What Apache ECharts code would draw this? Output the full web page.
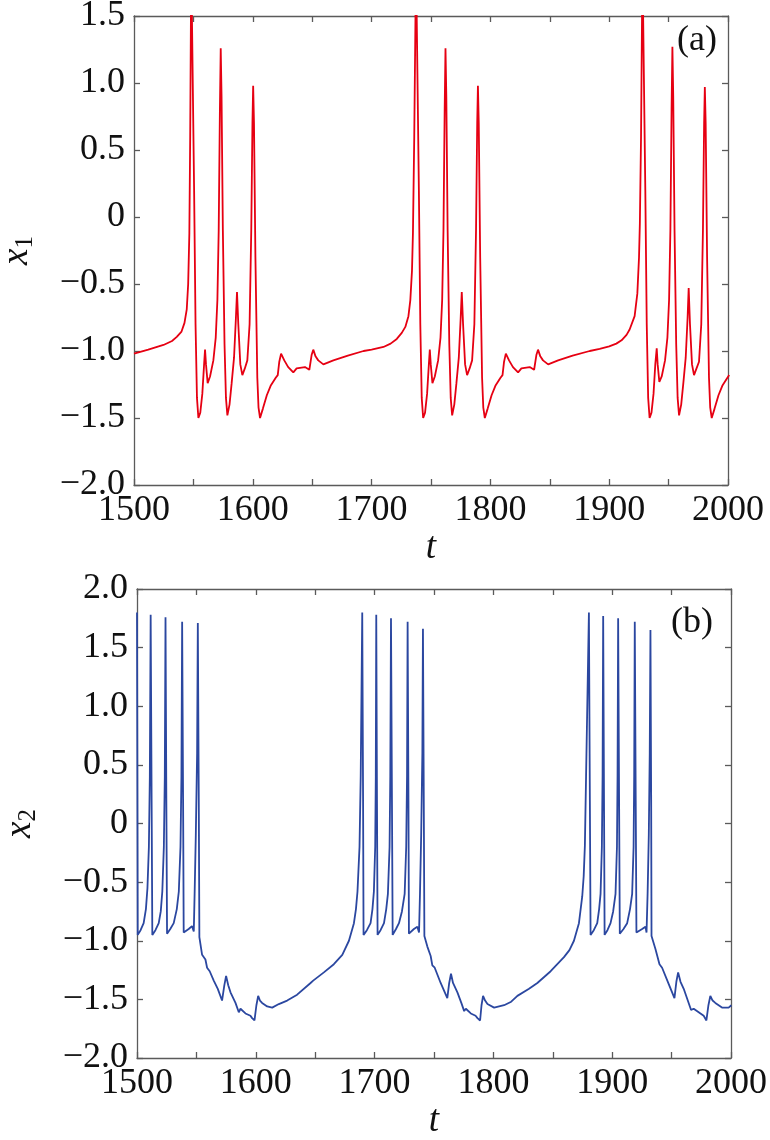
<!DOCTYPE html>
<html><head><meta charset="utf-8">
<script src="https://cdn.jsdelivr.net/npm/echarts@6/dist/echarts.min.js"></script>
<style>html,body{margin:0;padding:0;background:#fff}#c{width:770px;height:1140px}</style>
</head><body><div id="c"></div>
<script>
// x-axis ticks (t)
var tTicks = [1500, 1600, 1700, 1800, 1900, 2000];
var yTicksA = [-2.0, -1.5, -1.0, -0.5, 0, 0.5, 1.0, 1.5];
var yTicksB = [-2.0, -1.5, -1.0, -0.5, 0, 0.5, 1.0, 1.5, 2.0];

// panel (a): x1(t)
var x1Data = [
[1500,-1.02],[1512,-0.99],[1524.8,-0.955],[1532,-0.925],[1536,-0.895],[1540,-0.855],[1542.5,-0.79],[1544.4,-0.69],[1545.6,-0.5],[1546.6,-0.12],[1547.3,0.6],[1548.2,1.9],[1549.4,1.9],[1550.6,0.2],[1551.8,-0.8],[1553,-1.35],[1554.2,-1.5],[1555.8,-1.46],[1557.5,-1.32],[1559,-1.1],[1559.8,-0.99],[1560.6,-1.1],[1562,-1.24],[1564,-1.19],[1566.8,-1.07],[1568.8,-0.9],[1570.2,-0.62],[1571.3,-0.1],[1572.3,0.8],[1573,1.26],[1573.7,0.9],[1574.8,-0.1],[1576.2,-0.95],[1577.4,-1.35],[1578.6,-1.48],[1580.4,-1.4],[1582.2,-1.24],[1584.2,-1.05],[1585.8,-0.75],[1586.7,-0.56],[1587.8,-0.8],[1589.5,-1.1],[1591.2,-1.18],[1593.3,-1.13],[1595.4,-1.07],[1597.3,-0.8],[1598.7,-0.1],[1599.7,0.7],[1600.3,0.98],[1601,0.7],[1602.2,-0.3],[1603.8,-1.2],[1604.8,-1.42],[1606.1,-1.5],[1608.5,-1.43],[1611.8,-1.33],[1615,-1.26],[1619.3,-1.2],[1621,-1.18],[1622.3,-1.08],[1623.8,-1.02],[1626.5,-1.07],[1629.8,-1.12],[1634.1,-1.16],[1636.9,-1.13],[1643.9,-1.12],[1647.6,-1.14],[1649.5,-1.03],[1650.9,-0.99],[1652.8,-1.04],[1655.1,-1.07],[1659.4,-1.1],[1667.8,-1.07],[1680,-1.035],[1693.2,-1.0],[1700,-0.99],[1710,-0.97],[1716,-0.945],[1721.2,-0.91],[1725.4,-0.865],[1728.4,-0.82],[1731,-0.74],[1732.6,-0.62],[1734,-0.4],[1734.8,-0.12],[1735.9,0.6],
[1737.4,1.9],[1738.6,1.9],[1739.8,0.2],[1741,-0.8],[1742.2,-1.35],[1743.4,-1.5],[1745,-1.46],[1746.7,-1.32],[1748.2,-1.1],[1749,-0.99],[1749.8,-1.1],[1751.2,-1.24],[1753.2,-1.19],[1756,-1.07],[1758,-0.9],[1759.4,-0.62],[1760.5,-0.1],[1761.5,0.8],[1762.2,1.26],[1762.9,0.9],[1764,-0.1],[1765.4,-0.95],[1766.6,-1.35],[1767.8,-1.48],[1769.6,-1.4],[1771.4,-1.24],[1773.4,-1.05],[1775,-0.75],[1775.9,-0.56],[1777,-0.8],[1778.7,-1.1],[1780.4,-1.18],[1782.5,-1.13],[1784.6,-1.07],[1786.5,-0.8],[1787.9,-0.1],[1788.9,0.7],[1789.5,0.98],[1790.2,0.7],[1791.4,-0.3],[1793,-1.2],[1794,-1.42],[1795.3,-1.5],[1797.7,-1.43],[1801,-1.33],[1804.2,-1.26],[1808.5,-1.2],[1810.2,-1.18],[1811.5,-1.08],[1813,-1.02],[1815.7,-1.07],[1819,-1.12],[1823.3,-1.16],[1826.1,-1.13],[1833.1,-1.12],[1836.8,-1.14],[1838.7,-1.03],[1840.1,-0.99],[1842,-1.04],[1844.3,-1.07],[1848.6,-1.1],[1857,-1.07],[1869.2,-1.035],[1883.6,-1.0],[1892,-0.985],[1900,-0.965],[1906,-0.945],[1910.4,-0.92],[1914.6,-0.88],[1917.2,-0.84],[1921.4,-0.74],[1923.7,-0.57],[1925.1,-0.3],[1925.8,-0.05],[1926.8,0.6],
[1928,1.9],[1929.2,1.9],[1930.4,0.2],[1931.6,-0.8],[1932.8,-1.35],[1934,-1.5],[1935.6,-1.46],[1937.3,-1.32],[1938.8,-1.1],[1940,-0.98],[1940.8,-1.1],[1942.2,-1.23],[1944.2,-1.19],[1947,-1.07],[1949,-0.9],[1950.4,-0.62],[1951.5,-0.1],[1952.5,0.8],[1953.2,1.27],[1953.9,0.9],[1955,-0.1],[1956.4,-0.95],[1957.6,-1.35],[1958.8,-1.48],[1960.6,-1.4],[1962.4,-1.24],[1964.4,-1.05],[1966,-0.75],[1966.9,-0.53],[1968,-0.8],[1969.7,-1.1],[1971.4,-1.18],[1973.5,-1.13],[1975.6,-1.08],[1977.5,-0.8],[1978.9,-0.1],[1979.9,0.7],[1980.5,0.97],[1981.2,0.7],[1982.4,-0.3],[1984,-1.2],[1985,-1.42],[1986.3,-1.5],[1988.7,-1.43],[1992,-1.33],[1995.2,-1.26],[1999.5,-1.2],[2001,-1.18]
];

// panel (b): x2(t)
var x2Data = [
[1500,1.80],[1500.6,-0.95],[1503,-0.91],[1505.6,-0.85],[1507.5,-0.73],[1508.8,-0.55],[1510,-0.2],[1510.8,0.4],[1511.5,1.78],[1512.3,0.2],[1512.9,-0.95],[1515.5,-0.91],[1518.3,-0.85],[1520,-0.75],[1521.3,-0.58],[1522.6,-0.2],[1523.4,0.4],[1524,1.76],[1524.7,0.2],[1525.3,-0.94],[1528,-0.9],[1530.9,-0.85],[1533.5,-0.73],[1535.2,-0.58],[1536.6,-0.2],[1537.4,0.4],[1538,1.72],[1538.8,0.2],[1539.3,-0.93],[1543.5,-0.9],[1546.3,-0.875],[1547.8,-0.92],[1548.5,-0.6],[1549.5,-0.1],[1550.6,0.6],[1551.2,1.71],[1552,0.2],[1552.5,-0.97],[1554.8,-1.12],[1557.6,-1.16],[1559,-1.23],[1561.2,-1.26],[1564.6,-1.34],[1568,-1.41],[1571.6,-1.51],[1573.5,-1.38],[1575,-1.30],[1576.8,-1.38],[1578.7,-1.44],[1582.9,-1.53],[1585.7,-1.61],[1587.1,-1.58],[1591.3,-1.62],[1595.5,-1.64],[1596.9,-1.66],[1598.9,-1.68],[1600.5,-1.55],[1602,-1.47],[1603.5,-1.51],[1605.3,-1.53],[1609.6,-1.56],[1613.8,-1.57],[1619.4,-1.54],[1626.4,-1.51],[1634.8,-1.46],[1646.1,-1.36],[1648.3,-1.34],[1657.3,-1.27],[1665.7,-1.2],[1672.8,-1.12],[1678.4,-1.0],[1682.6,-0.85],[1684.3,-0.73],[1685.6,-0.58],[1687.3,-0.2],[1688.3,0.4],
[1689.6,1.80],[1690.3,0.2],[1690.7,-0.95],[1693.5,-0.91],[1696.6,-0.85],[1698.2,-0.73],[1699.4,-0.58],[1700.5,-0.2],[1701,0.4],[1701.4,1.78],[1702,0.2],[1702.5,-0.95],[1705,-0.91],[1707.9,-0.85],[1709.8,-0.73],[1711.2,-0.6],[1712.6,-0.2],[1713.2,0.4],[1713.8,1.75],[1714.6,0.2],[1715.2,-0.95],[1718,-0.9],[1720.5,-0.85],[1723,-0.75],[1725.3,-0.6],[1726.6,-0.2],[1727.3,0.4],[1727.8,1.72],[1728.5,0.2],[1728.9,-0.94],[1733.1,-0.9],[1736,-0.88],[1737.4,-0.93],[1738.2,-0.6],[1739.2,-0.1],[1740.2,0.6],[1740.7,1.66],[1741.4,0.2],[1741.9,-0.96],[1744.4,-1.05],[1747.2,-1.13],[1748.6,-1.21],[1750.6,-1.23],[1755.6,-1.36],[1761.2,-1.49],[1762.8,-1.36],[1764.3,-1.28],[1766,-1.36],[1769.7,-1.44],[1773,-1.53],[1775.4,-1.6],[1776.8,-1.58],[1781,-1.62],[1785,-1.64],[1786.6,-1.66],[1788.8,-1.68],[1790,-1.55],[1791.3,-1.47],[1793,-1.51],[1795,-1.54],[1800.6,-1.57],[1809,-1.55],[1815,-1.52],[1820.2,-1.47],[1830,-1.41],[1837,-1.36],[1848.2,-1.26],[1859.4,-1.14],[1864,-1.08],[1867.8,-1.0],[1872,-0.85],[1874.8,-0.62],[1876,-0.45],[1877,-0.19],[1878,0.4],
[1880.4,1.80],[1881.2,0.2],[1881.8,-0.95],[1884.5,-0.91],[1887.4,-0.85],[1889,-0.73],[1890.2,-0.6],[1891.3,-0.2],[1891.9,0.4],[1892.4,1.77],[1893.1,0.2],[1893.6,-0.95],[1896,-0.91],[1898.6,-0.85],[1900.8,-0.75],[1902.8,-0.6],[1904,-0.2],[1904.5,0.4],[1905,1.75],[1905.8,0.2],[1906.4,-0.94],[1909.5,-0.9],[1912.6,-0.85],[1915,-0.73],[1916.8,-0.6],[1918,-0.2],[1918.5,0.4],[1919,1.72],[1919.8,0.2],[1920.4,-0.93],[1925.2,-0.9],[1928,-0.88],[1928.9,-0.93],[1929.8,-0.6],[1930.8,-0.1],[1931.6,0.6],[1932.2,1.65],[1932.8,0.2],[1933.1,-0.96],[1936.4,-1.07],[1939.8,-1.2],[1942,-1.23],[1947.6,-1.37],[1952.4,-1.49],[1954,-1.35],[1955.5,-1.27],[1957.5,-1.35],[1960.2,-1.41],[1966.4,-1.59],[1968.6,-1.58],[1972.8,-1.61],[1977,-1.64],[1979.3,-1.68],[1981,-1.55],[1982.6,-1.47],[1984.5,-1.51],[1986.8,-1.53],[1992.4,-1.57],[1998,-1.57],[2000.3,-1.55]
];

var FONT = '"Liberation Serif", "DejaVu Serif", serif';
var AX = '#5a5a5a';
function fmtY(v){ if (Math.abs(v) < 1e-9) return '0'; var s = v.toFixed(1); return s.replace('-', '\u2212'); }
function fmtX(v){ return tTicks.indexOf(v) >= 0 ? String(v) : ''; }

function xAxes(gi){
  var base = {type:'value', gridIndex:gi, min:1500, max:2000, interval:50,
    axisLine:{show:true, onZero:false, lineStyle:{color:AX, width:1.3}},
    axisTick:{show:true, inside:true, length:6, lineStyle:{color:AX, width:1.3}},
    splitLine:{show:false}};
  var bottom = Object.assign({}, base, {position:'bottom',
    axisLabel:{show:true, formatter:fmtX, fontFamily:FONT, fontSize:36, color:'#111', margin:8},
    name:'t', nameLocation:'middle', nameGap:30,
    nameTextStyle:{fontFamily:FONT, fontStyle:'italic', fontSize:37, lineHeight:22, color:'#111'}});
  var top = Object.assign({}, base, {position:'top', axisLabel:{show:false}});
  return [bottom, top];
}
function yAxes(gi, mn, mx, nm){
  var base = {type:'value', gridIndex:gi, min:mn, max:mx, interval:0.5,
    axisLine:{show:true, onZero:false, lineStyle:{color:AX, width:1.3}},
    axisTick:{show:true, inside:true, length:6, lineStyle:{color:AX, width:1.3}},
    splitLine:{show:false}};
  var left = Object.assign({}, base, {position:'left',
    axisLabel:{show:true, formatter:fmtY, fontFamily:FONT, fontSize:36, color:'#111', margin:9},
    name:'{i|x}{s|' + nm + '}', nameLocation:'middle', nameGap:96, nameRotate:90,
    nameTextStyle:{rich:{
      i:{fontFamily:FONT, fontStyle:'italic', fontSize:37, color:'#111'},
      s:{fontFamily:FONT, fontSize:25, color:'#111', padding:[16,0,0,0]}}}});
  var right = Object.assign({}, base, {position:'right', axisLabel:{show:false}});
  return [left, right];
}

var xa = xAxes(0).concat(xAxes(1));
var ya = yAxes(0, -2, 1.5, '1').concat(yAxes(1, -2, 2, '2'));

var chart = echarts.init(document.getElementById('c'), null, {renderer:'canvas'});
chart.setOption({
  animation:false,
  backgroundColor:'#fff',
  grid:[
    {left:134, top:16, width:594, height:469, containLabel:false, outerBoundsMode:'none'},
    {left:137, top:589, width:594, height:469, containLabel:false, outerBoundsMode:'none'}
  ],
  xAxis: xa,
  yAxis: ya,
  graphic:[
    {type:'text', left:677, top:23, style:{text:'(a)', font:'36px ' + FONT, fill:'#111'}},
    {type:'text', left:671, top:605, style:{text:'(b)', font:'36px ' + FONT, fill:'#111'}}
  ],
  series:[
    {type:'line', xAxisIndex:0, yAxisIndex:0, data:x1Data, showSymbol:false, symbol:'none',
     lineStyle:{color:'#e60012', width:1.8}, clip:true},
    {type:'line', xAxisIndex:2, yAxisIndex:2, data:x2Data, showSymbol:false, symbol:'none',
     lineStyle:{color:'#2b47a0', width:1.8}, clip:true}
  ]
});
</script>
</body></html>
